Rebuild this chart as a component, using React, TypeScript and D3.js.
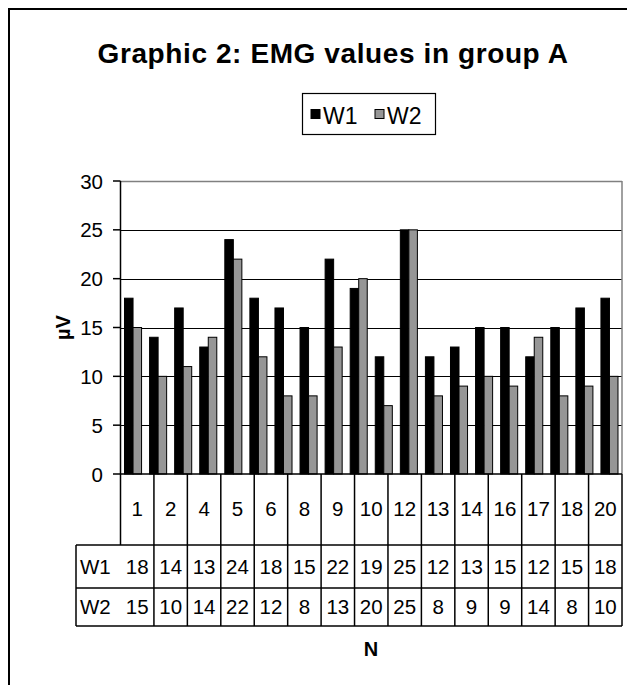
import React from "react";
import * as d3 from "d3";

// Bars as drawn in the plot (20 groups)
const barW1 = [18, 14, 17, 13, 24, 18, 17, 15, 22, 19, 12, 25, 12, 13, 15, 15, 12, 15, 17, 18];
const barW2 = [15, 10, 11, 14, 22, 12, 8, 8, 13, 20, 7, 25, 8, 9, 10, 9, 14, 8, 9, 10];

// Data table below the plot (15 columns)
const categories = ["1", "2", "4", "5", "6", "8", "9", "10", "12", "13", "14", "16", "17", "18", "20"];
const tableW1 = [18, 14, 13, 24, 18, 15, 22, 19, 25, 12, 13, 15, 12, 15, 18];
const tableW2 = [15, 10, 14, 22, 12, 8, 13, 20, 25, 8, 9, 9, 14, 8, 10];

const yTicks = [0, 5, 10, 15, 20, 25, 30];
const seriesNames = ["W1", "W2"];
const seriesColors = ["#000000", "#969696"];

const FONT = "'Liberation Sans', Arial, Helvetica, sans-serif";

export default function App() {
  const W = 627;
  const H = 685;
  const plotLeft = 120.5;
  const plotRight = 622;
  const plotTop = 181;
  const plotBottom = 474;
  const catBottom = 545;
  const w1Bottom = 588;
  const tableBottom = 626;
  const tableLeft = 76;

  const y = d3.scaleLinear().domain([0, 30]).range([plotBottom, plotTop]);
  const xb = d3.scaleBand<number>().domain(d3.range(barW1.length)).range([plotLeft, plotRight]).padding(0);
  const bw = xb.bandwidth();
  const pairW = bw * 0.68;
  const off = (bw - pairW) / 2;
  const single = pairW / 2;

  const xt = d3.scaleBand<string>().domain(categories).range([plotLeft, plotRight]).padding(0);
  const cw = xt.bandwidth();

  return (
    <svg width={W} height={H} style={{ position: "absolute", left: 0, top: 0, background: "#fff" }} fontFamily={FONT}>
      <rect x={0} y={0} width={W} height={H} fill="#fff" />
      {/* outer frame */}
      <rect x={9} y={9} width={W + 20} height={H + 20} fill="none" stroke="#000" strokeWidth={2} />

      {/* title */}
      <text x={333} y={63} textAnchor="middle" fontSize={28} fontWeight="bold" letterSpacing={0.6}>
        Graphic 2: EMG values in group A
      </text>

      {/* legend */}
      <rect x={302.5} y={93.5} width={133} height={41} fill="#fff" stroke="#000" strokeWidth={1.2} />
      {seriesNames.map((s, i) => (
        <g key={s} transform={`translate(${310.5 + i * 64},0)`}>
          <rect x={0.5} y={109.5} width={9} height={9} fill={seriesColors[i]} stroke="#000" strokeWidth={1} />
          <text x={12.5} y={124} fontSize={23}>{s}</text>
        </g>
      ))}

      {/* gridlines */}
      {yTicks.filter((t) => t > 0 && t < 30).map((t) => (
        <line key={t} x1={plotLeft} x2={plotRight} y1={Math.round(y(t)) + 0.5} y2={Math.round(y(t)) + 0.5} stroke="#000" strokeWidth={1} />
      ))}
      {/* plot border top/right gray */}
      <line x1={plotLeft} x2={plotRight} y1={y(30) + 0.5} y2={y(30) + 0.5} stroke="#808080" strokeWidth={1.5} />
      <line x1={plotRight} x2={plotRight} y1={y(30)} y2={plotBottom} stroke="#808080" strokeWidth={1.5} />

      {/* bars */}
      {barW1.map((v, i) => {
        const x0 = (xb(i) as number) + off;
        return (
          <g key={i}>
            <rect x={x0} y={y(v)} width={single} height={plotBottom - y(v)} fill={seriesColors[0]} stroke="#000" strokeWidth={1} />
            <rect x={x0 + single} y={y(barW2[i])} width={single} height={plotBottom - y(barW2[i])} fill={seriesColors[1]} stroke="#000" strokeWidth={1} />
          </g>
        );
      })}

      {/* y axis */}
      <line x1={plotLeft} x2={plotLeft} y1={plotTop} y2={catBottom} stroke="#000" strokeWidth={1.5} />
      {yTicks.map((t) => (
        <g key={t}>
          <line x1={113} x2={plotLeft} y1={y(t)} y2={y(t)} stroke="#000" strokeWidth={1.5} />
          <text x={103} y={y(t) + 7.5} textAnchor="end" fontSize={20.5}>{t}</text>
        </g>
      ))}
      <text transform={`translate(70,${(plotTop + plotBottom) / 2}) rotate(-90)`} textAnchor="middle" fontSize={20} fontWeight="bold">
        µV
      </text>

      {/* x axis / table */}
      <line x1={plotLeft} x2={plotRight} y1={plotBottom} y2={plotBottom} stroke="#000" strokeWidth={1.5} />
      <line x1={tableLeft} x2={plotRight} y1={catBottom} y2={catBottom} stroke="#000" strokeWidth={1.5} />
      <line x1={tableLeft} x2={plotRight} y1={w1Bottom} y2={w1Bottom} stroke="#000" strokeWidth={1.5} />
      <line x1={tableLeft} x2={plotRight} y1={tableBottom} y2={tableBottom} stroke="#000" strokeWidth={1.5} />
      <line x1={tableLeft} x2={tableLeft} y1={catBottom} y2={tableBottom} stroke="#000" strokeWidth={1.5} />
      {categories.map((c) => (
        <line key={"v" + c} x1={(xt(c) as number) + cw} x2={(xt(c) as number) + cw} y1={plotBottom} y2={tableBottom} stroke="#000" strokeWidth={1.5} />
      ))}
      {categories.map((c, i) => {
        const cx = (xt(c) as number) + cw / 2;
        return (
          <g key={"t" + c} fontSize={20.5} textAnchor="middle">
            <text x={cx} y={516}>{c}</text>
            <text x={cx} y={574}>{tableW1[i]}</text>
            <text x={cx} y={614}>{tableW2[i]}</text>
          </g>
        );
      })}
      <text x={80} y={574} fontSize={20.5}>W1</text>
      <text x={80} y={614} fontSize={20.5}>W2</text>

      <text x={371} y={656} textAnchor="middle" fontSize={20} fontWeight="bold">N</text>
    </svg>
  );
}
